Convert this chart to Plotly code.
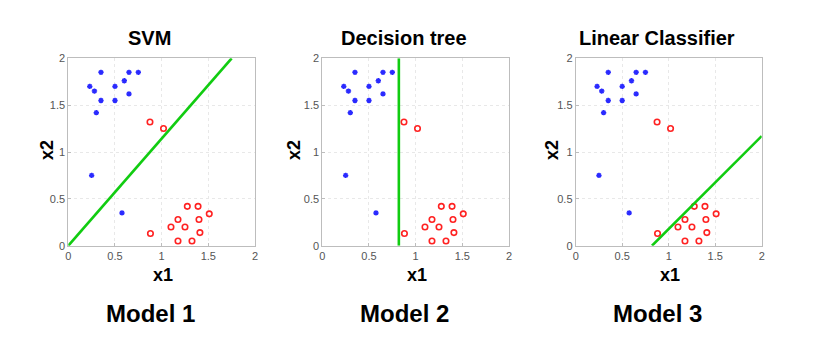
import plotly.graph_objects as go

# ---- data ----
blue_x = [0.23, 0.28, 0.35, 0.35, 0.30, 0.50, 0.50, 0.60, 0.65, 0.65, 0.75, 0.25, 0.575]
blue_y = [1.70, 1.65, 1.85, 1.55, 1.42, 1.70, 1.55, 1.76, 1.85, 1.62, 1.85, 0.75, 0.35]
red_x = [0.875, 1.02, 0.88, 1.10, 1.175, 1.175, 1.25, 1.275, 1.325, 1.39, 1.40, 1.41, 1.51]
red_y = [1.32, 1.25, 0.13, 0.20, 0.28, 0.05, 0.20, 0.42, 0.05, 0.42, 0.28, 0.14, 0.34]

titles = ["SVM", "Decision tree", "Linear Classifier"]
models = ["Model 1", "Model 2", "Model 3"]
line_x = [[0.0, 1.75], [0.82, 0.82], [0.82, 2.0]]
line_y = [[0.0, 2.0], [0.0, 2.0], [0.0, 1.17]]
tick_vals = [0, 0.5, 1, 1.5, 2]
tick_text = ["0", "0.5", "1", "1.5", "2"]

W, H = 815, 343
# plot-area pixel geometry (left, right) per panel
px_lr = [(68.3, 255.0), (322.3, 509.0), (575.7, 761.7)]
py_top, py_bot = 58.3, 245.7
xlab_x2 = [47, 294, 552]

fig = go.Figure()
for i in range(3):
    ax = "" if i == 0 else str(i + 1)
    xa, ya = "x" + ax, "y" + ax
    fig.add_trace(go.Scatter(x=blue_x, y=blue_y, mode="markers", xaxis=xa, yaxis=ya,
                             marker=dict(symbol="asterisk-open", size=4.5, color="#2a2aff",
                                         line=dict(color="#2a2aff", width=1.5)),
                             showlegend=False, hoverinfo="skip"))
    fig.add_trace(go.Scatter(x=red_x, y=red_y, mode="markers", xaxis=xa, yaxis=ya,
                             marker=dict(symbol="circle-open", size=5.5, color="#ff2222",
                                         line=dict(color="#ff2222", width=1.6)),
                             showlegend=False, hoverinfo="skip"))
    fig.add_trace(go.Scatter(x=line_x[i], y=line_y[i], mode="lines", xaxis=xa, yaxis=ya,
                             line=dict(color="#11cc11", width=2.6),
                             showlegend=False, hoverinfo="skip"))
    l, r = px_lr[i]
    common = dict(range=[0, 2], tickvals=tick_vals, ticktext=tick_text,
                  showgrid=True, gridcolor="#e8e8e8", griddash="dot", gridwidth=1,
                  showline=True, linecolor="#bdbdbd", linewidth=1, mirror=True,
                  ticks="inside", ticklen=3, tickcolor="#bdbdbd", zeroline=False,
                  tickfont=dict(family="Liberation Sans", size=11, color="#555555"),
                  fixedrange=True, automargin=False)
    fig.layout["xaxis" + ax] = go.layout.XAxis(domain=[l / W, r / W], anchor=ya, **common)
    fig.layout["yaxis" + ax] = go.layout.YAxis(domain=[(H - py_bot) / H, (H - py_top) / H],
                                               anchor=xa, **common)
    cx = (l + r) / 2
    fig.add_annotation(text="<b>" + titles[i] + "</b>", x=(cx - 12) / W, y=1 - 38 / H,
                       xref="paper", yref="paper", showarrow=False,
                       xanchor="center", yanchor="middle",
                       font=dict(family="Liberation Sans", size=20, color="black"))
    fig.add_annotation(text="<b>" + models[i] + "</b>", x=(cx - 11) / W, y=1 - 313 / H,
                       xref="paper", yref="paper", showarrow=False,
                       xanchor="center", yanchor="middle",
                       font=dict(family="Liberation Sans", size=24, color="black"))
    fig.add_annotation(text="<b>x1</b>", x=(cx + 1) / W, y=1 - 275 / H,
                       xref="paper", yref="paper", showarrow=False,
                       xanchor="center", yanchor="middle",
                       font=dict(family="Liberation Sans", size=18, color="black"))
    fig.add_annotation(text="<b>x2</b>", x=xlab_x2[i] / W, y=1 - 150 / H, textangle=-90,
                       xref="paper", yref="paper", showarrow=False,
                       xanchor="center", yanchor="middle",
                       font=dict(family="Liberation Sans", size=18, color="black"))

fig.update_layout(width=W, height=H, margin=dict(l=0, r=0, t=0, b=0),
                  paper_bgcolor="white", plot_bgcolor="white")
fig.write_html("out.html")
